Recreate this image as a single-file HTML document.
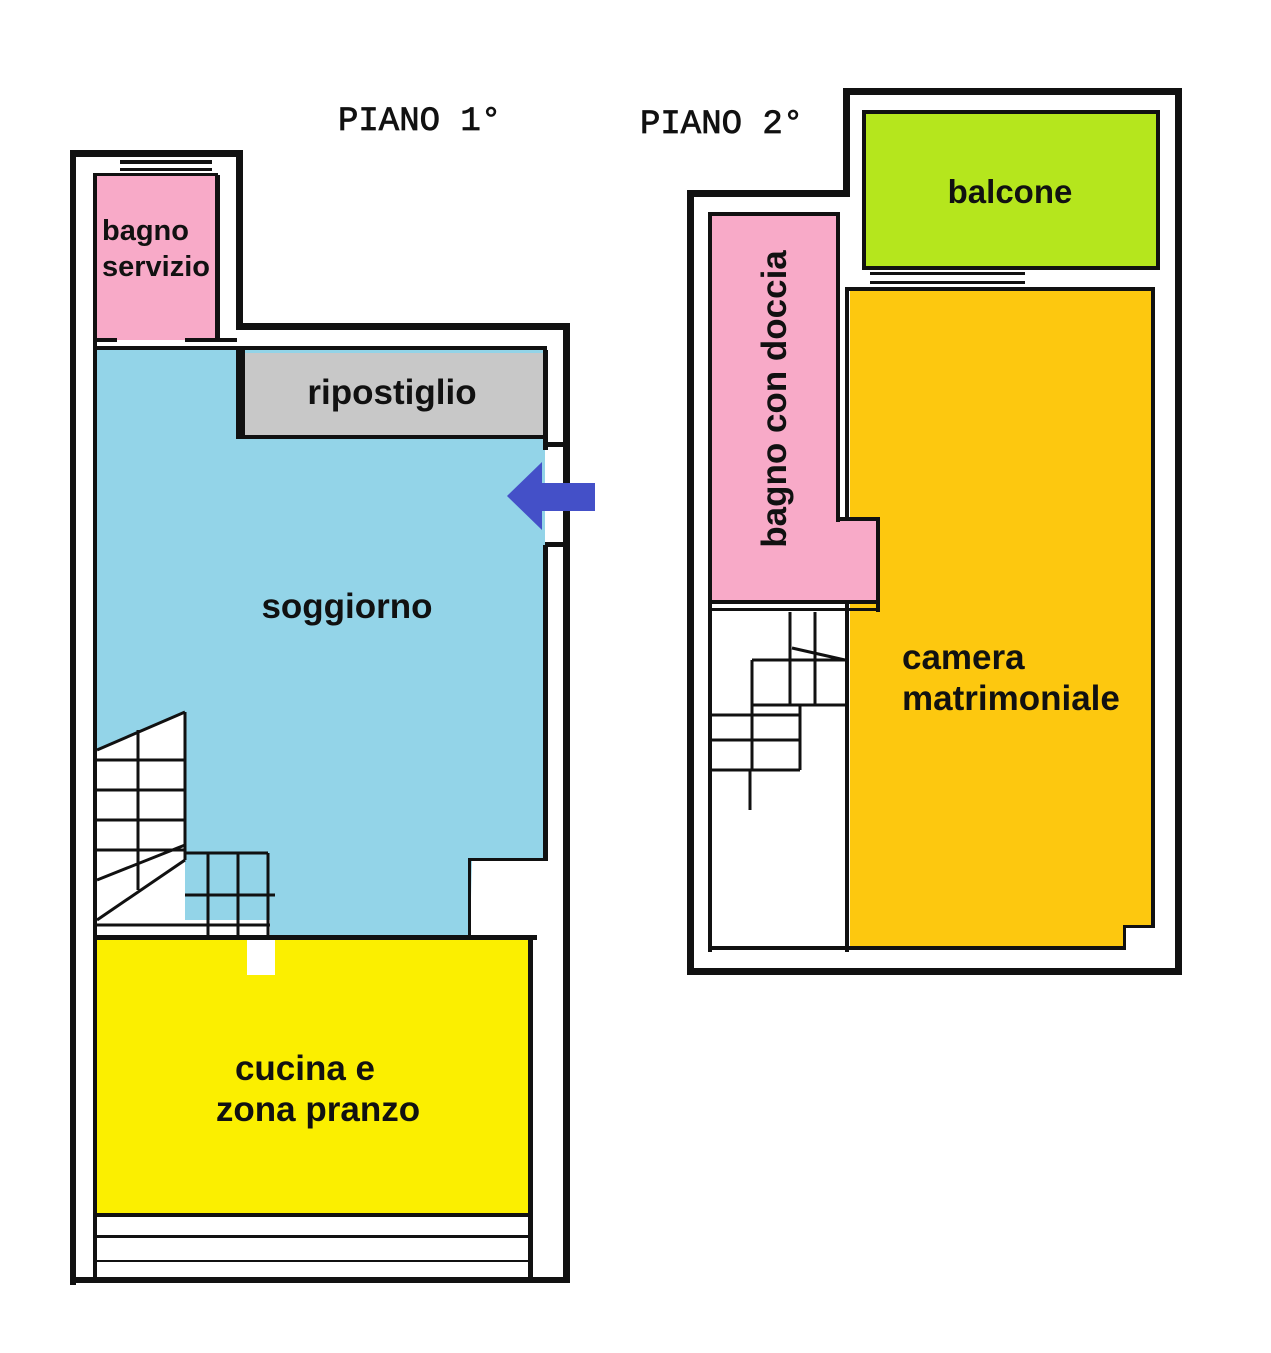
<!DOCTYPE html>
<html><head><meta charset="utf-8"><style>
html,body{margin:0;padding:0;background:#fff;}
svg{display:block;}
text{font-family:"Liberation Sans",sans-serif;font-weight:bold;fill:#111;}
</style></head><body>
<svg width="1271" height="1353" viewBox="0 0 1271 1353" xmlns="http://www.w3.org/2000/svg">
<rect width="1271" height="1353" fill="#fff"/>
<!-- titles -->
<text x="338" y="130" font-size="34" style="font-family:'Liberation Mono',monospace;font-weight:normal" stroke="#111" stroke-width="0.8">PIANO 1°</text>
<text x="640" y="133" font-size="34" style="font-family:'Liberation Mono',monospace;font-weight:normal" stroke="#111" stroke-width="0.8">PIANO 2°</text>

<!-- LEFT PLAN fills -->
<rect x="97" y="175" width="118" height="165" fill="#f8aac8"/>
<polygon points="97,350 545,350 545,860 472,860 470,935 270,935 270,920 185,920 185,712 97,750" fill="#93d4e8"/>
<rect x="245" y="353" width="300" height="82" fill="#c8c8c8"/>
<polygon points="97,940 530,940 530,1215 97,1215" fill="#fbef00"/>
<rect x="247" y="938" width="28" height="37" fill="#fff"/>
<!-- left walls -->
<g fill="#111">
<rect x="70" y="150" width="6" height="1135"/>
<rect x="70" y="150" width="173" height="7"/>
<rect x="236" y="150" width="7" height="180"/>
<rect x="236" y="323" width="334" height="7"/>
<rect x="563" y="323" width="7" height="960"/>
<rect x="70" y="1277" width="500" height="6"/>
<rect x="93" y="175" width="4" height="1105"/>
<rect x="120" y="160" width="92" height="4"/>
<rect x="120" y="168" width="92" height="3"/>
<rect x="93" y="173" width="125" height="3"/>
<rect x="215" y="175" width="5" height="165"/>
<rect x="97" y="338" width="20" height="4"/>
<rect x="185" y="338" width="52" height="4"/>
<rect x="97" y="346" width="450" height="4"/>
<rect x="236" y="350" width="9" height="88"/>
<rect x="236" y="435" width="310" height="4"/>
<rect x="543" y="350" width="5" height="100"/>
<rect x="543" y="545" width="5" height="316"/>
<rect x="545" y="442" width="18" height="5"/>
<rect x="545" y="542" width="18" height="5"/>
<rect x="470" y="858" width="75" height="3"/>
<rect x="468" y="858" width="3" height="80"/>
<rect x="97" y="935" width="440" height="5"/>
<rect x="528" y="935" width="5" height="345"/>
<rect x="97" y="1213" width="433" height="4"/>
<rect x="97" y="1235" width="433" height="3"/>
<rect x="97" y="1260" width="433" height="2"/>
</g>
<!-- left stairs -->
<g stroke="#111" stroke-width="3" fill="none">
<line x1="97" y1="750" x2="185" y2="712"/>
<line x1="185" y1="712" x2="185" y2="860"/>
<line x1="138" y1="730" x2="138" y2="890"/>
<line x1="97" y1="760" x2="185" y2="760"/>
<line x1="97" y1="790" x2="185" y2="790"/>
<line x1="97" y1="820" x2="185" y2="820"/>
<line x1="97" y1="850" x2="185" y2="850"/>
<line x1="97" y1="880" x2="185" y2="845"/>
<line x1="97" y1="920" x2="185" y2="860"/>
<line x1="185" y1="853" x2="268" y2="853"/>
<line x1="268" y1="853" x2="268" y2="935"/>
<line x1="185" y1="895" x2="275" y2="895"/>
<line x1="208" y1="853" x2="208" y2="935"/>
<line x1="238" y1="853" x2="238" y2="935"/>
<line x1="97" y1="925" x2="270" y2="925"/>
</g>
<!-- arrow -->
<polygon points="507,496 542,462 542,483 595,483 595,511 542,511 542,530" fill="#4450c8"/>
<!-- left labels -->
<text x="102" y="240" font-size="29">bagno</text>
<text x="102" y="276" font-size="29">servizio</text>
<text x="392" y="404" font-size="35" text-anchor="middle">ripostiglio</text>
<text x="347" y="618" font-size="35" text-anchor="middle">soggiorno</text>
<text x="305" y="1080" font-size="35" text-anchor="middle">cucina e</text>
<text x="318" y="1121" font-size="35" text-anchor="middle">zona pranzo</text>

<!-- RIGHT PLAN fills -->
<rect x="866" y="113" width="291" height="155" fill="#b5e61d"/>
<polygon points="850,290 1152,290 1152,925 1125,925 1125,948 850,948" fill="#fdc80f"/>
<polygon points="712,215 838,215 838,520 878,520 878,600 712,600" fill="#f8aac8"/>
<g fill="#111">
<rect x="843" y="88" width="339" height="7"/>
<rect x="843" y="88" width="7" height="105"/>
<rect x="687" y="190" width="163" height="7"/>
<rect x="687" y="190" width="7" height="785"/>
<rect x="687" y="968" width="490" height="7"/>
<rect x="1175" y="88" width="7" height="887"/>
<rect x="708" y="212" width="4" height="740"/>
<rect x="708" y="212" width="132" height="4"/>
<rect x="836" y="212" width="4" height="310"/>
<rect x="836" y="517" width="44" height="4"/>
<rect x="876" y="517" width="4" height="95"/>
<rect x="708" y="600" width="172" height="4"/>
<rect x="708" y="608" width="172" height="3"/>
<rect x="862" y="110" width="298" height="4"/>
<rect x="862" y="110" width="4" height="160"/>
<rect x="1156" y="110" width="4" height="160"/>
<rect x="862" y="266" width="298" height="4"/>
<rect x="870" y="272" width="155" height="3"/>
<rect x="870" y="281" width="155" height="3"/>
<rect x="845" y="287" width="310" height="4"/>
<rect x="845" y="287" width="4" height="233"/>
<rect x="845" y="604" width="4" height="348"/>
<rect x="1151" y="287" width="4" height="640"/>
<rect x="1125" y="925" width="30" height="3"/>
<rect x="1123" y="925" width="3" height="25"/>
<rect x="708" y="946" width="418" height="4"/>
</g>
<g stroke="#111" stroke-width="3" fill="none">
<line x1="790" y1="612" x2="790" y2="705"/>
<line x1="815" y1="612" x2="815" y2="705"/>
<line x1="752" y1="660" x2="845" y2="660"/>
<line x1="752" y1="660" x2="752" y2="770"/>
<line x1="752" y1="705" x2="845" y2="705"/>
<line x1="712" y1="715" x2="800" y2="715"/>
<line x1="712" y1="740" x2="800" y2="740"/>
<line x1="712" y1="770" x2="800" y2="770"/>
<line x1="800" y1="705" x2="800" y2="770"/>
<line x1="750" y1="770" x2="750" y2="810"/>
<line x1="792" y1="648" x2="845" y2="660"/>
</g>
<text x="1010" y="203" font-size="33" text-anchor="middle">balcone</text>
<text transform="translate(786,399) rotate(-90)" font-size="35" text-anchor="middle">bagno con doccia</text>
<text x="902" y="669" font-size="35">camera</text>
<text x="902" y="710" font-size="35">matrimoniale</text>
</svg>
</body></html>
